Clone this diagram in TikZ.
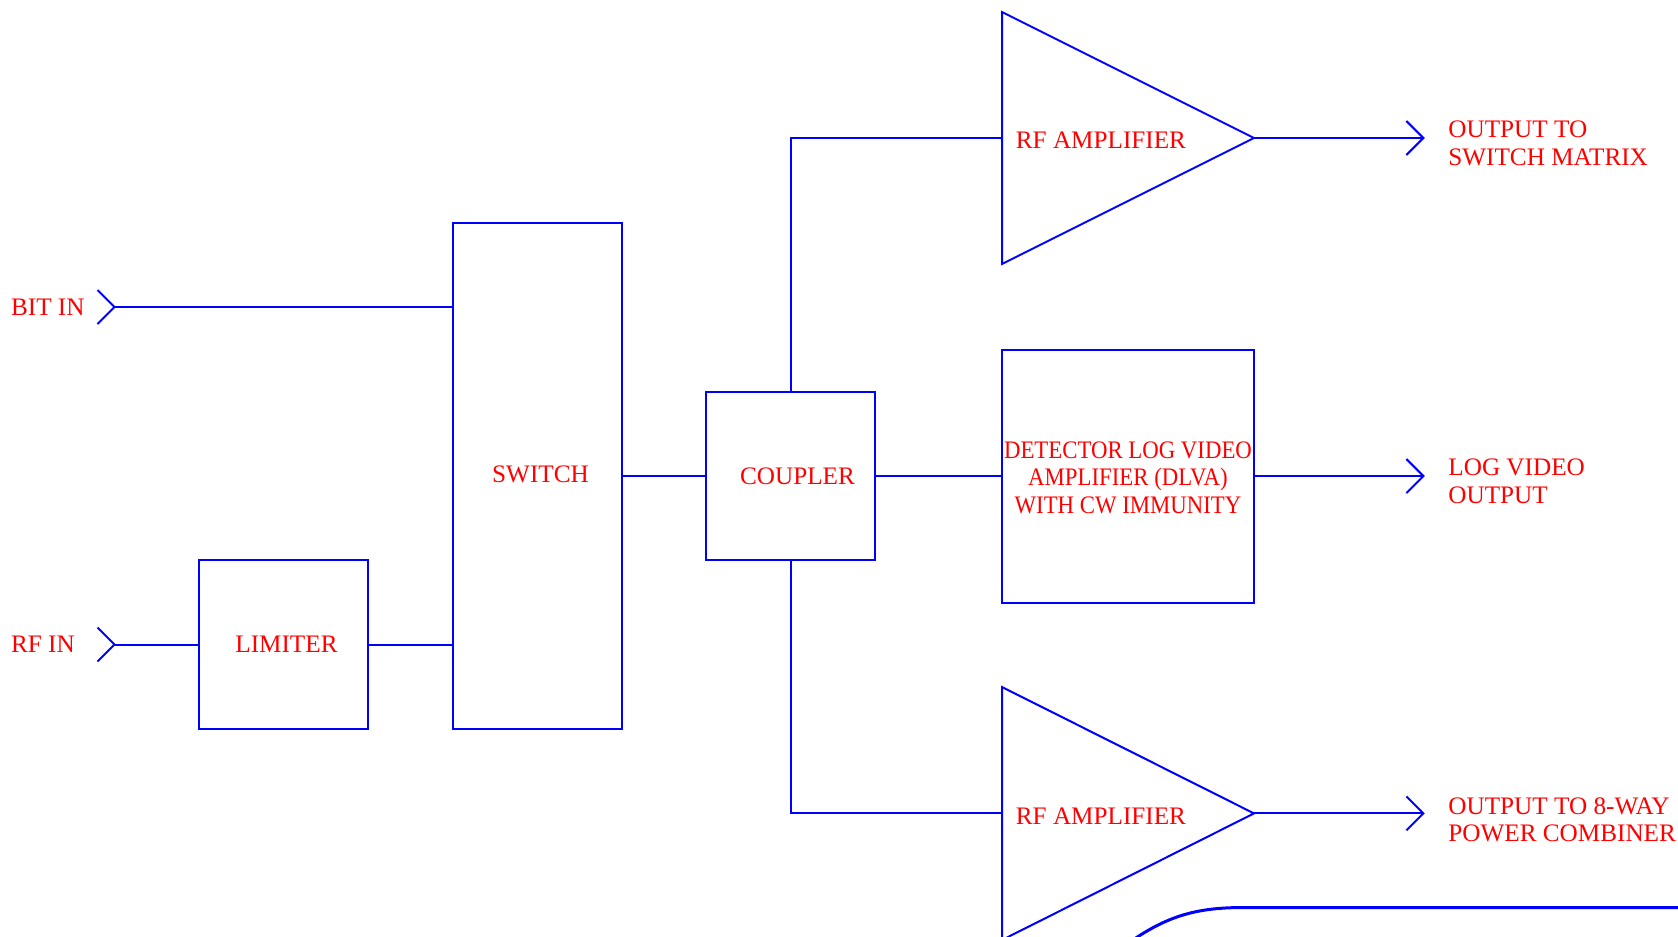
\documentclass[tikz,border=0pt]{standalone}
\usepackage{graphicx}
\usepackage{fontspec}
\setmainfont{Liberation Serif}
\newcommand{\narrowline}[1]{\scalebox{0.905}[1]{#1}}
\begin{document}
\begin{tikzpicture}[x=0.5pt,y=-0.5pt,
  wire/.style={draw=blue, line width=1pt},
  blk/.style={draw=blue, line width=1pt, rectangle, inner sep=0pt, text=red, align=center,
     font=\fontsize{12.6}{13.9}\selectfont},
  lbl/.style={text=red, inner sep=0pt, align=left, font=\fontsize{12.6}{13.9}\selectfont}]
\useasboundingbox (0,0) rectangle (1678,937);

% boxes
\node[blk, minimum width=84.5pt, minimum height=84.5pt] (limiter) at (283.5,644.5) {\hspace*{3pt}LIMITER};
\node[blk, minimum width=84.5pt, minimum height=253pt] (switch) at (537.5,476) {\raisebox{1.5pt}{\hspace*{3pt}SWITCH}};
\node[blk, minimum width=84.5pt, minimum height=84pt] (coupler) at (790.5,476) {\hspace*{7pt}COUPLER};
\node[blk, minimum width=126pt, minimum height=126.5pt] (dlva) at (1128,476)
  {\raisebox{-2.2pt}[\height][\depth]{\begin{tabular}{@{}c@{}}\narrowline{DETECTOR LOG VIDEO}\\\narrowline{AMPLIFIER (DLVA)}\\\narrowline{WITH CW IMMUNITY}\end{tabular}}};

% amplifiers
\coordinate (amp1in) at (1002,138);
\coordinate (amp1out) at (1254,138);
\coordinate (amp2in) at (1002,813.4);
\coordinate (amp2out) at (1254,813.4);
\draw[wire, line join=miter] (1002,12) -- (amp1out) -- (1002,264) -- cycle;
\draw[wire, line join=miter] (1002,687) -- (amp2out) -- (1002,940) -- cycle;
\node[lbl, anchor=west] (amp1lbl) at (1015.5,140) {RF AMPLIFIER};
\node[lbl, anchor=west] (amp2lbl) at (1015.5,816.5) {RF AMPLIFIER};

% inputs
\coordinate (bitin) at (114.5,307);
\coordinate (rfin) at (114.5,644.5);
\node[lbl, anchor=west] (bitlbl) at (10.7,307) {BIT IN};
\node[lbl, anchor=west] (rflbl) at (10.7,644.5) {RF IN};
\draw[wire] (bitin) ++(-17,-17) -- (bitin) -- ++(-17,17);
\draw[wire] (rfin) ++(-17,-17) -- (rfin) -- ++(-17,17);

% connectors
\draw[wire] (bitin) -- (bitin -| switch.west);
\draw[wire] (rfin) -- (limiter.west);
\draw[wire] (limiter.east) -- (limiter.east -| switch.west);
\draw[wire] (switch.east) -- (coupler.west);
\draw[wire] (coupler.north) |- (amp1in);
\draw[wire] (coupler.south) |- (amp2in);
\draw[wire] (coupler.east) -- (coupler.east -| dlva.west);

% outputs
\coordinate (out1) at (1423.4,138);
\coordinate (out2) at (1423.4,476);
\coordinate (out3) at (1423.4,813.4);
\draw[wire] (amp1out) -- (out1);
\draw[wire] (dlva.east) -- (out2);
\draw[wire] (amp2out) -- (out3);
\foreach \p in {out1,out2,out3}
  \draw[wire] (\p) ++(-17,-17) -- (\p) -- ++(-17,17);
\node[lbl, anchor=west] (o1lbl) at (1448,143.4) {OUTPUT TO\\SWITCH MATRIX};
\node[lbl, anchor=west] (o2lbl) at (1448,481.6) {LOG VIDEO\\OUTPUT};
\node[lbl, anchor=west] (o3lbl) at (1448,819.8) {OUTPUT TO 8-WAY\\POWER COMBINER};

% partial curve at bottom right
\draw[draw=blue, line width=1.5pt] (1130,942) .. controls (1170,914) and (1200,907.5) .. (1245,907.5) -- (1690,907.5);
\end{tikzpicture}
\end{document}
